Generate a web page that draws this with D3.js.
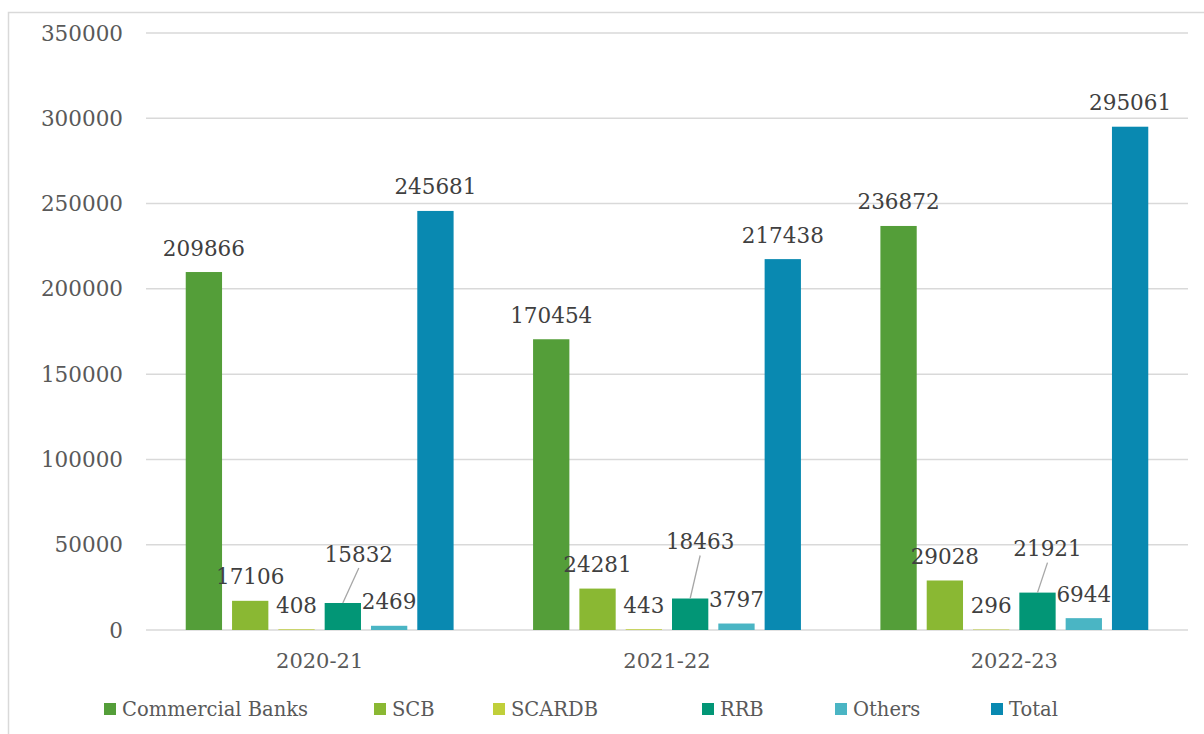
<!DOCTYPE html>
<html>
<head>
<meta charset="utf-8">
<script src="https://cdn.jsdelivr.net/npm/d3@7"></script>
<style>
  body { margin: 0; background: #fff; }
  text { font-family: Georgia, "DejaVu Serif", serif; }
</style>
</head>
<body>
<div id="chart"></div>
<script>
(function(){

    // data
    var years = ["2020-21", "2021-22", "2022-23"];
    var series = ["Commercial Banks", "SCB", "SCARDB", "RRB", "Others", "Total"];
    var commercialBanks = [209866, 170454, 236872];
    var scb = [17106, 24281, 29028];
    var scardb = [408, 443, 296];
    var rrb = [15832, 18463, 21921];
    var others = [2469, 3797, 6944];
    var total = [245681, 217438, 295061];
    var yTicks = [0, 50000, 100000, 150000, 200000, 250000, 300000, 350000];

    var colors = ["#549E39", "#8AB833", "#C0CF3A", "#029676", "#4AB5C4", "#0989B1"];

    // layout
    var width = 1204, height = 734;
    var plot = {left: 146, right: 1188, top: 33, bottom: 630};
    var legendX = [104, 374, 493, 702, 835, 991];
    // RRB labels are moved up with a leader line
    var rrbLabelShift = [[16, -25], [10, -33], [10, -20]];

    var values = [commercialBanks, scb, scardb, rrb, others, total];

    var svg = d3.select("#chart").append("svg")
        .attr("width", width)
        .attr("height", height);

    // chart border
    svg.append("rect")
        .attr("x", 8.5).attr("y", 12.5)
        .attr("width", 1210).attr("height", 740)
        .attr("fill", "none")
        .attr("stroke", "#d9d9d9")
        .attr("stroke-width", 1.5);

    var x0 = d3.scaleBand().domain(years).range([plot.left, plot.right]);
    var x1 = d3.scaleBand().domain(series).range([0, x0.bandwidth()])
        .paddingInner(0.216).paddingOuter(0.858);
    var y = d3.scaleLinear().domain([0, 350000]).range([plot.bottom, plot.top]);

    // gridlines
    svg.append("g").selectAll("line")
        .data(yTicks).enter().append("line")
        .attr("x1", plot.left).attr("x2", plot.right)
        .attr("y1", function(d){ return y(d); })
        .attr("y2", function(d){ return y(d); })
        .attr("stroke", "#d9d9d9")
        .attr("stroke-width", 1.5);

    // y tick labels
    svg.append("g").selectAll("text")
        .data(yTicks).enter().append("text")
        .attr("x", 123)
        .attr("y", function(d){ return y(d); })
        .attr("dy", "0.35em")
        .attr("text-anchor", "end")
        .attr("font-size", "21.5px")
        .attr("fill", "#595959")
        .text(function(d){ return d; });

    // category labels
    svg.append("g").selectAll("text")
        .data(years).enter().append("text")
        .attr("x", function(d){ return x0(d) + x0.bandwidth() / 2; })
        .attr("y", 661)
        .attr("dy", "0.35em")
        .attr("text-anchor", "middle")
        .attr("font-size", "21px")
        .attr("fill", "#595959")
        .text(function(d){ return d; });

    // flatten to bar records
    var bars = [];
    years.forEach(function(yr, i){
        series.forEach(function(s, j){
            bars.push({year: yr, series: s, idx: j, yi: i, value: values[j][i]});
        });
    });

    function barCenter(d){ return x0(d.year) + x1(d.series) + x1.bandwidth() / 2; }

    svg.append("g").selectAll("rect")
        .data(bars).enter().append("rect")
        .attr("x", function(d){ return x0(d.year) + x1(d.series); })
        .attr("y", function(d){ return y(d.value); })
        .attr("width", x1.bandwidth())
        .attr("height", function(d){ return y(0) - y(d.value); })
        .attr("fill", function(d){ return colors[d.idx]; });

    // leader lines for moved labels
    var moved = bars.filter(function(d){ return d.series == "RRB"; });
    svg.append("g").selectAll("line")
        .data(moved).enter().append("line")
        .attr("x1", function(d){ return barCenter(d); })
        .attr("y1", function(d){ return y(d.value); })
        .attr("x2", function(d){ return barCenter(d) + rrbLabelShift[d.yi][0]; })
        .attr("y2", function(d){ return y(d.value) - 24 + rrbLabelShift[d.yi][1] + 14; })
        .attr("stroke", "#a6a6a6")
        .attr("stroke-width", 1.3);

    // data labels
    svg.append("g").selectAll("text")
        .data(bars).enter().append("text")
        .attr("x", function(d){
            var dx = d.series == "RRB" ? rrbLabelShift[d.yi][0] : 0;
            return barCenter(d) + dx;
        })
        .attr("y", function(d){
            var dy = d.series == "RRB" ? rrbLabelShift[d.yi][1] : 0;
            return y(d.value) - 24 + dy;
        })
        .attr("dy", "0.35em")
        .attr("text-anchor", "middle")
        .attr("font-size", "21.5px")
        .attr("fill", "#404040")
        .text(function(d){ return d.value; });

    // legend
    var legend = svg.append("g").selectAll("g")
        .data(series).enter().append("g")
        .attr("transform", function(d, i){ return "translate(" + legendX[i] + ",703)"; });
    legend.append("rect")
        .attr("width", 12).attr("height", 12)
        .attr("fill", function(d, i){ return colors[i]; });
    legend.append("text")
        .attr("x", 18).attr("y", 6)
        .attr("dy", "0.35em")
        .attr("font-size", "19.5px")
        .attr("fill", "#595959")
        .text(function(d){ return d; });

})();
</script>
</body>
</html>
